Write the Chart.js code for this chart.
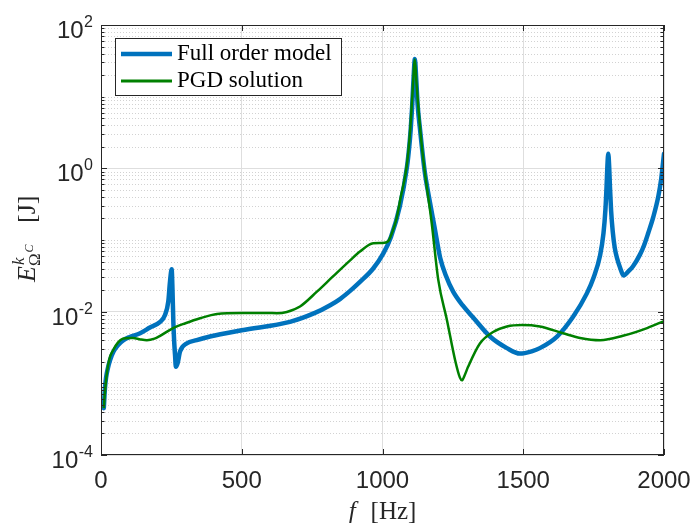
<!DOCTYPE html>
<html>
<head>
<meta charset="utf-8">
<script src="https://cdn.jsdelivr.net/npm/chart.js@4.4.1/dist/chart.umd.min.js"></script>
<style>
  html, body { margin: 0; padding: 0; background: #fff; }
  canvas { display: block; }
</style>
</head>
<body>
<canvas id="chart" width="690" height="523"></canvas>
<script>
// Frequency response (f in Hz, energy in J)
const fomFreq = [10, 14, 18, 24, 32, 45, 60, 80, 100, 139, 174, 210, 227, 239, 245, 251, 254, 257, 260, 263, 266, 272, 281, 304, 340, 387, 500, 671, 760, 814, 849, 885, 920, 967, 1003, 1030, 1062, 1087, 1095, 1100, 1105, 1110, 1115, 1120, 1125, 1133, 1150, 1165, 1185, 1205, 1225, 1251, 1285, 1322, 1382, 1442, 1488, 1530, 1559, 1620, 1677, 1726, 1750, 1773, 1785, 1792, 1796, 1799, 1802, 1805, 1808, 1812, 1818, 1825, 1833, 1845, 1856, 1875, 1890, 1915, 1930, 1944, 1962, 1980, 1990, 2000];
const fomEnergy = [4.5e-4, 8.5e-4, 1.2e-3, 1.6e-3, 2.1e-3, 2.8e-3, 3.4e-3, 4.0e-3, 4.4e-3, 5.0e-3, 6.0e-3, 7.2e-3, 8.9e-3, 0.0138, 0.026, 0.039, 0.02, 0.0072, 3.8e-3, 2.5e-3, 1.7e-3, 1.9e-3, 2.8e-3, 3.6e-3, 4.0e-3, 4.5e-3, 5.5e-3, 7.2e-3, 9.6e-3, 0.0123, 0.015, 0.0195, 0.026, 0.040, 0.065, 0.11, 0.30, 1.05, 2.0, 3.4, 6.9, 17, 33.5, 17, 7.5, 3.6, 0.9, 0.4, 0.15, 0.056, 0.032, 0.019, 0.0122, 8.3e-3, 4.5e-3, 3.1e-3, 2.6e-3, 2.8e-3, 3.1e-3, 4.5e-3, 8.5e-3, 0.018, 0.030, 0.061, 0.124, 0.27, 0.56, 1.1, 1.6, 1.1, 0.55, 0.26, 0.13, 0.078, 0.056, 0.04, 0.032, 0.037, 0.043, 0.063, 0.086, 0.125, 0.21, 0.41, 0.71, 1.6];

const pgdFreq = [10, 14, 21, 30, 43, 60, 78, 100, 114, 140, 163, 190, 210, 256, 300, 352, 412, 500, 590, 625, 660, 707, 767, 824, 885, 920, 967, 1000, 1020, 1035, 1050, 1065, 1086, 1098, 1107, 1115, 1121, 1127, 1140, 1151, 1175, 1198, 1229, 1258, 1275, 1282, 1292, 1304, 1346, 1393, 1442, 1495, 1559, 1641, 1702, 1773, 1854, 1940, 2000];
const pgdEnergy = [4.5e-4, 7.5e-4, 1.4e-3, 2.2e-3, 2.9e-3, 3.7e-3, 4.2e-3, 4.3e-3, 4.3e-3, 4.1e-3, 4.0e-3, 4.2e-3, 4.6e-3, 5.9e-3, 6.9e-3, 8.1e-3, 9.3e-3, 9.6e-3, 9.6e-3, 9.5e-3, 9.9e-3, 0.0118, 0.019, 0.031, 0.052, 0.069, 0.090, 0.091, 0.096, 0.13, 0.2, 0.4, 1.07, 3.3, 12, 33, 15, 7.3, 2.0, 0.85, 0.17, 0.028, 7.6e-3, 2.1e-3, 1.2e-3, 1.1e-3, 1.3e-3, 1.7e-3, 3.6e-3, 5.2e-3, 6.2e-3, 6.5e-3, 6.2e-3, 5.0e-3, 4.3e-3, 4.0e-3, 4.6e-3, 5.9e-3, 7.4e-3];

const xTicks = [0, 500, 1000, 1500, 2000];
const yTicks = [1e-4, 1e-2, 1e0, 1e2];
const seriesLabels = ["Full order model", "PGD solution"];
const seriesColors = ["#0072BD", "#008000"];

const axisColor = "#262626";

// minor decade positions (1..9 x 10^n) that are not labelled
function minorValues() {
    const out = [];
    for (let e = -4; e < 2; e++) {
        for (let m = 1; m <= 9; m++) {
            const v = m * Math.pow(10, e);
            if (m === 1 && yTicks.some(t => Math.abs(Math.log10(t) - e) < 1e-9)) continue;
            out.push(v);
        }
    }
    return out;
}

const matlabAxes = {
    id: "matlabAxes",
    beforeDatasetsDraw(chart) {
        const { ctx, chartArea: a, scales: { y } } = chart;
        ctx.save();
        ctx.strokeStyle = "#d2d2d2";
        ctx.lineWidth = 1;
        ctx.setLineDash([1, 2]);
        minorValues().forEach(v => {
            const py = Math.round(y.getPixelForValue(v)) + 0.5;
            ctx.beginPath();
            ctx.moveTo(a.left + 1, py);
            ctx.lineTo(a.right, py);
            ctx.stroke();
        });
        ctx.restore();
    },
    afterDatasetsDraw(chart) {
        const { ctx, chartArea: a, scales: { x, y } } = chart;
        ctx.save();
        // box
        ctx.strokeStyle = axisColor;
        ctx.lineWidth = 1;
        ctx.strokeRect(a.left + 0.5, a.top + 0.5, a.right - a.left - 1, a.bottom - a.top - 1);

        // inward ticks
        ctx.beginPath();
        xTicks.forEach(v => {
            const px = Math.round(x.getPixelForValue(v)) + 0.5;
            ctx.moveTo(px, a.bottom); ctx.lineTo(px, a.bottom - 6);
            ctx.moveTo(px, a.top); ctx.lineTo(px, a.top + 6);
        });
        yTicks.forEach(v => {
            const py = Math.round(y.getPixelForValue(v)) + 0.5;
            ctx.moveTo(a.left, py); ctx.lineTo(a.left + 6, py);
            ctx.moveTo(a.right, py); ctx.lineTo(a.right - 6, py);
        });
        minorValues().forEach(v => {
            const py = Math.round(y.getPixelForValue(v)) + 0.5;
            ctx.moveTo(a.left, py); ctx.lineTo(a.left + 3.5, py);
            ctx.moveTo(a.right, py); ctx.lineTo(a.right - 3.5, py);
        });
        ctx.stroke();

        // y tick labels 10^n
        ctx.fillStyle = axisColor;
        ctx.textBaseline = "alphabetic";
        ctx.textAlign = "right";
        yTicks.forEach(v => {
            const py = y.getPixelForValue(v);
            const expText = String(Math.round(Math.log10(v)));
            ctx.font = "16px 'Liberation Sans'";
            const ew = ctx.measureText(expText).width;
            ctx.fillText(expText, 93, py + 2);
            ctx.font = "24px 'Liberation Sans'";
            ctx.fillText("10", 93 - ew - 0.5, py + 13);
        });

        // x title: f [Hz]
        ctx.textAlign = "left";
        ctx.font = "italic 25px 'Liberation Serif'";
        const wf = ctx.measureText("f").width;
        ctx.font = "25px 'Liberation Serif'";
        const whz = ctx.measureText("[Hz]").width;
        const gap = 15;
        const cx = (a.left + a.right) / 2;
        const sx = cx - (wf + gap + whz) / 2;
        ctx.font = "italic 25px 'Liberation Serif'";
        ctx.fillText("f", sx, 519);
        ctx.font = "25px 'Liberation Serif'";
        ctx.fillText("[Hz]", sx + wf + gap, 519);

        // y title: E^k_{Omega^C} [J], rotated
        ctx.save();
        ctx.translate(35, (a.top + a.bottom) / 2);
        ctx.rotate(-Math.PI / 2);
        let lx = -42;
        ctx.font = "italic 26px 'Liberation Serif'";
        ctx.fillText("E", lx, 0);
        lx += ctx.measureText("E").width + 1;
        ctx.font = "italic 17px 'Liberation Serif'";
        ctx.fillText("k", lx, -11);
        ctx.font = "17px 'Liberation Serif'";
        ctx.fillText("\u03A9", lx - 1, 5);
        const wo = ctx.measureText("\u03A9").width;
        ctx.font = "italic 12px 'Liberation Serif'";
        ctx.fillText("C", lx + wo, -2);
        ctx.font = "26px 'Liberation Serif'";
        ctx.fillText("[J]", 17, 0);
        ctx.restore();

        // legend
        const lb = { x: 115.5, y: 38.5, w: 226, h: 57 };
        ctx.fillStyle = "#ffffff";
        ctx.fillRect(lb.x, lb.y, lb.w, lb.h);
        ctx.strokeStyle = axisColor;
        ctx.lineWidth = 1;
        ctx.strokeRect(lb.x, lb.y, lb.w, lb.h);
        chart.data.datasets.forEach((ds, i) => {
            const ly = 54 + i * 27;
            ctx.strokeStyle = ds.borderColor;
            ctx.lineWidth = i === 0 ? 4.5 : 3;
            ctx.beginPath();
            ctx.moveTo(121, ly);
            ctx.lineTo(172, ly);
            ctx.stroke();
            ctx.fillStyle = "#000000";
            ctx.font = "23px 'Liberation Serif'";
            ctx.fillText(ds.label, 177, ly + 6);
        });
        ctx.restore();
    }
};

const ctx = document.getElementById("chart").getContext("2d");
new Chart(ctx, {
    type: "line",
    data: {
        datasets: [
            {
                label: seriesLabels[0],
                data: fomFreq.map((f, i) => ({ x: f, y: fomEnergy[i] })),
                borderColor: seriesColors[0],
                borderWidth: 4.5,
                pointRadius: 0,
                cubicInterpolationMode: "monotone",
                borderJoinStyle: "round",
                borderCapStyle: "round",
                order: 1
            },
            {
                label: seriesLabels[1],
                data: pgdFreq.map((f, i) => ({ x: f, y: pgdEnergy[i] })),
                borderColor: seriesColors[1],
                borderWidth: 2.5,
                pointRadius: 0,
                cubicInterpolationMode: "monotone",
                borderJoinStyle: "round",
                order: 0
            }
        ]
    },
    options: {
        responsive: false,
        animation: false,
        devicePixelRatio: 1,
        layout: { padding: { left: 0, right: 26, top: 25, bottom: 0 } },
        plugins: { legend: { display: false }, tooltip: { enabled: false } },
        scales: {
            x: {
                type: "linear",
                min: 0,
                max: 2000,
                afterBuildTicks: s => { s.ticks = xTicks.map(v => ({ value: v })); },
                afterFit: s => { s.height = 68; s.paddingLeft = 0; s.paddingRight = 0; },
                grid: { color: "#dedede", drawTicks: false },
                border: { display: false },
                ticks: {
                    font: { family: "'Liberation Sans'", size: 24 },
                    color: axisColor,
                    padding: 12,
                    maxRotation: 0,
                    autoSkip: false,
                    callback: v => String(v)
                }
            },
            y: {
                type: "logarithmic",
                min: 1e-4,
                max: 1e2,
                afterBuildTicks: s => { s.ticks = yTicks.map(v => ({ value: v })); },
                afterFit: s => { s.width = 101; s.paddingTop = 0; s.paddingBottom = 0; },
                grid: { color: "#dedede", drawTicks: false },
                border: { display: false },
                ticks: { display: false }
            }
        }
    },
    plugins: [matlabAxes]
});
</script>
</body>
</html>
